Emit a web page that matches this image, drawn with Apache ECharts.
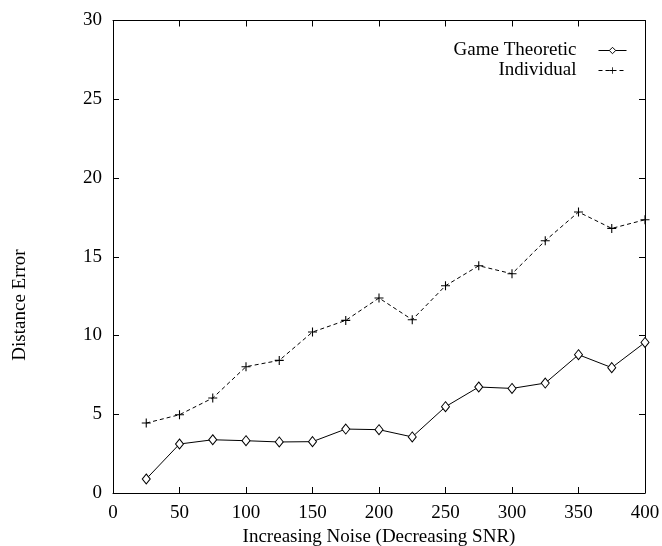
<!DOCTYPE html>
<html><head><meta charset="utf-8">
<script src="https://cdn.jsdelivr.net/npm/echarts@6/dist/echarts.min.js"></script>
<style>html,body{margin:0;padding:0;background:#fff}#c{width:662px;height:546px}</style>
</head><body><div id="c"></div>
<script>
var noise = [25,50,75,100,125,150,175,200,225,250,275,300,325,350,375,400];
var gameTheoretic = [0.89,3.11,3.38,3.32,3.24,3.26,4.06,4.02,3.56,5.48,6.73,6.64,6.98,8.78,7.96,9.56];
var individual = [4.44,4.97,6.03,8.02,8.42,10.22,10.96,12.38,11.0,13.16,14.43,13.92,16.02,17.84,16.8,17.35];
var xTicks = [0,50,100,150,200,250,300,350,400];
var yTicks = [0,5,10,15,20,25,30];

var FONT = 'Liberation Serif';
var FS = 19;
function pairs(xs, ys){ return xs.map(function(x,i){return [x, ys[i]];}); }
var chart = echarts.init(document.getElementById('c'), null, {renderer:'canvas'});
var tickStyle = {show:true, inside:true, length:6, lineStyle:{color:'#000', width:1}};
var axisLine = {show:true, onZero:false, lineStyle:{color:'#000', width:1}};
var plusPath = 'path://M4.4,0h1.2v10h-1.2z M0,4.4h10v1.2h-10z';
chart.setOption({
  animation:false,
  backgroundColor:'#fff',
  textStyle:{fontFamily:FONT},
  grid:{left:113, right:17, top:20.5, bottom:53, containLabel:false, outerBoundsMode:'none'},
  legend:{
    orient:'vertical', right:35, top:41, padding:0, align:'right', itemWidth:28, itemHeight:8, itemGap:1,
    lineStyle:{width:1},
    itemStyle:{borderWidth:1},
    textStyle:{fontFamily:FONT, fontSize:FS, color:'#000', padding:[0,17,0,0]},
    data:['Game Theoretic','Individual']
  },
  xAxis:[{
    type:'value', min:xTicks[0], max:xTicks[xTicks.length-1], interval:50, position:'bottom',
    axisLine:axisLine, axisTick:tickStyle, splitLine:{show:false},
    axisLabel:{fontFamily:FONT, fontSize:FS, color:'#000', margin:11},
    name:'Increasing Noise (Decreasing SNR)', nameLocation:'middle', nameGap:30,
    nameTextStyle:{fontFamily:FONT, fontSize:FS, color:'#000'}
  },{
    type:'value', min:xTicks[0], max:xTicks[xTicks.length-1], interval:50, position:'top',
    axisLine:axisLine, axisTick:tickStyle, splitLine:{show:false}, axisLabel:{show:false}
  }],
  yAxis:[{
    type:'value', min:yTicks[0], max:yTicks[yTicks.length-1], interval:5, position:'left',
    axisLine:axisLine, axisTick:tickStyle, splitLine:{show:false},
    axisLabel:{fontFamily:FONT, fontSize:FS, color:'#000', margin:11}
  },{
    type:'value', min:yTicks[0], max:yTicks[yTicks.length-1], interval:5, position:'right',
    axisLine:axisLine, axisTick:tickStyle, splitLine:{show:false}, axisLabel:{show:false}
  }],
  graphic:[{
    type:'text', rotation:Math.PI/2, x:20, y:305,
    style:{text:'Distance Error', fontFamily:FONT, fontSize:FS, fill:'#000', textAlign:'center', textVerticalAlign:'middle'}
  }],
  series:[{
    name:'Game Theoretic', type:'line', data:pairs(noise, gameTheoretic),
    symbol:'diamond', symbolSize:[8,10], showAllSymbol:true,
    lineStyle:{color:'#000', width:1},
    itemStyle:{color:'#fff', borderColor:'#000', borderWidth:1}
  },{
    name:'Individual', type:'line', data:pairs(noise, individual),
    symbol:plusPath, symbolSize:9, showAllSymbol:true,
    lineStyle:{color:'#000', width:1, type:[4,3]},
    itemStyle:{color:'#000'}
  }]
});
</script></body></html>
